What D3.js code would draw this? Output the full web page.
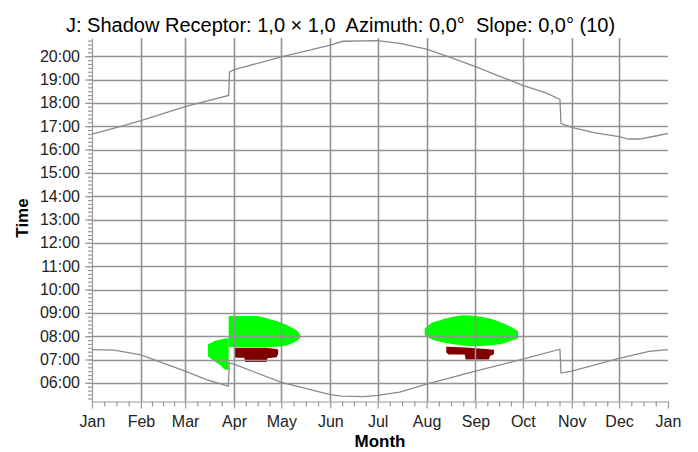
<!DOCTYPE html>
<html>
<head>
<meta charset="utf-8">
<script src="https://cdn.jsdelivr.net/npm/d3@7"></script>
<style>
  body { margin: 0; background: #fff; }
  svg { display: block; font-family: "Liberation Sans", Arial, sans-serif; }
</style>
</head>
<body>
<div id="chart"></div>
<script>
// days are counted from 1 Jan (0), times are local clock hours
var titleText = "J: Shadow Receptor: 1,0 \u00d7 1,0  Azimuth: 0,0\u00b0  Slope: 0,0\u00b0 (10)";
var monthLabels = ["Jan", "Feb", "Mar", "Apr", "May", "Jun", "Jul", "Aug", "Sep", "Oct", "Nov", "Dec", "Jan"];
var hourTicks = [6, 7, 8, 9, 10, 11, 12, 13, 14, 15, 16, 17, 18, 19, 20];

// sunset line (with the two clock changes)
var sunsetDays  = [0, 20, 31, 59, 86.6, 87.2, 90, 120, 151, 159, 181, 195, 212, 227, 243, 258, 273, 288, 296.5, 297.2, 304, 318, 334, 340, 347, 358, 365];
var sunsetHours = [16.66, 17.02, 17.24, 17.84, 18.32, 19.33, 19.42, 19.97, 20.47, 20.64, 20.67, 20.55, 20.3, 19.95, 19.55, 19.15, 18.75, 18.42, 18.15, 17.12, 16.95, 16.72, 16.55, 16.45, 16.45, 16.59, 16.69];

// sunrise line
var sunriseDays  = [0, 14, 31, 59, 73, 86.4, 87.0, 90, 120, 151, 158, 172, 181, 195, 212, 243, 273, 296.5, 297.2, 304, 334, 353, 365];
var sunriseHours = [7.42, 7.40, 7.20, 6.50, 6.13, 5.86, 6.86, 6.80, 6.02, 5.49, 5.43, 5.41, 5.46, 5.60, 5.94, 6.50, 7.02, 7.44, 6.42, 6.50, 7.05, 7.35, 7.42];

// shadow periods (green), spring before clock change
var shadow1Days = [73.5, 76, 78, 81.7, 84.3, 86.6];
var shadow1From = [7.14, 7.00, 6.90, 6.73, 6.57, 6.56];
var shadow1To   = [7.64, 7.74, 7.80, 7.86, 7.90, 7.91];

// spring after clock change
var shadow2Days = [86.6, 90, 104.4, 108, 112.8, 120.2, 126.7, 130.5, 132.4];
var shadow2From = [7.54, 7.54, 7.54, 7.54, 7.54, 7.57, 7.69, 7.84, 7.97];
var shadow2To   = [8.87, 8.87, 8.87, 8.82, 8.72, 8.57, 8.36, 8.19, 8.01];

// late summer
var shadow3Days = [210.8, 214.2, 220.5, 231.9, 236.4, 242.7, 252.2, 261.7, 266.8, 270];
var shadow3From = [8.05, 7.90, 7.76, 7.63, 7.59, 7.57, 7.61, 7.71, 7.84, 7.90];
var shadow3To   = [8.33, 8.52, 8.68, 8.86, 8.90, 8.87, 8.76, 8.52, 8.35, 8.22];

// dark red periods
var dark1Days = [90.2, 91, 96.5, 97, 110.7, 111.2, 117, 118];
var dark1From = [7.15, 7.07, 7.07, 6.89, 6.89, 7.05, 7.10, 7.25];
var dark1To   = [7.50, 7.50, 7.50, 7.50, 7.50, 7.49, 7.45, 7.42];

var dark2Days = [224.5, 226, 236.2, 236.8, 251.5, 252.2, 254.7];
var dark2From = [7.30, 7.21, 7.21, 7.00, 7.00, 7.15, 7.22];
var dark2To   = [7.55, 7.55, 7.51, 7.51, 7.44, 7.43, 7.42];

var svgWidth = 698;
var svgHeight = 452;
var margin = { top: 38, right: 30, bottom: 50.5, left: 92 };
var chartWidth = svgWidth - margin.left - margin.right;
var chartHeight = svgHeight - margin.top - margin.bottom;

var year0 = Date.UTC(2021, 0, 1);
function dayDate(d) { return new Date(year0 + d * 864e5); }

var xScale = d3.scaleUtc()
  .domain([new Date(year0), new Date(Date.UTC(2022, 0, 1))])
  .range([0, chartWidth]);

var yScale = d3.scaleLinear()
  .domain([5.2, 20.78])
  .range([chartHeight, 0]);

var svg = d3.select("#chart").append("svg")
  .attr("width", svgWidth)
  .attr("height", svgHeight);

svg.append("rect").attr("width", svgWidth).attr("height", svgHeight).attr("fill", "#fff");

var chartGroup = svg.append("g")
  .attr("transform", `translate(${margin.left}, ${margin.top})`);

// shadow areas first, grid goes over them
function drawArea(days, from, to, color, curve) {
  var area = d3.area()
    .curve(curve)
    .x(i => xScale(dayDate(days[i])))
    .y0(i => yScale(from[i]))
    .y1(i => yScale(to[i]));
  chartGroup.append("path")
    .attr("d", area(d3.range(days.length)))
    .attr("fill", color);
}
drawArea(shadow1Days, shadow1From, shadow1To, "#00ff00", d3.curveMonotoneX);
drawArea(shadow2Days, shadow2From, shadow2To, "#00ff00", d3.curveMonotoneX);
drawArea(shadow3Days, shadow3From, shadow3To, "#00ff00", d3.curveMonotoneX);
drawArea(dark1Days, dark1From, dark1To, "#800000", d3.curveLinear);
drawArea(dark2Days, dark2From, dark2To, "#800000", d3.curveLinear);

var monthDates = d3.utcMonth.range(new Date(year0), new Date(Date.UTC(2022, 0, 2)));

// grid
chartGroup.append("g").selectAll("line")
  .data(hourTicks)
  .enter().append("line")
  .attr("x1", 0).attr("x2", chartWidth)
  .attr("y1", d => Math.round(yScale(d)) + 0.5)
  .attr("y2", d => Math.round(yScale(d)) + 0.5)
  .attr("stroke", "#929292")
  .attr("stroke-width", 1.6);

chartGroup.append("g").selectAll("line")
  .data(monthDates.slice(1, 12))
  .enter().append("line")
  .attr("x1", d => Math.round(xScale(d)) + 0.5)
  .attr("x2", d => Math.round(xScale(d)) + 0.5)
  .attr("y1", 0).attr("y2", chartHeight)
  .attr("stroke", "#929292")
  .attr("stroke-width", 1.6);

// sunrise / sunset
var line = d3.line();
function drawCurve(days, hours) {
  chartGroup.append("path")
    .attr("d", line(days.map((d, i) => [xScale(dayDate(d)), yScale(hours[i])])))
    .attr("fill", "none")
    .attr("stroke", "#8a8a8a")
    .attr("stroke-width", 1.3);
}
drawCurve(sunsetDays, sunsetHours);
drawCurve(sunriseDays, sunriseHours);

// minor ticks: quarters of each month, every 10 minutes
var quarterDates = [];
monthDates.slice(0, 12).forEach(function (m, i) {
  var next = monthDates[i + 1];
  for (var k = 1; k < 4; k++) quarterDates.push(new Date(+m + (next - m) * k / 4));
});
var minuteTicks = d3.range(32, 125).map(k => k / 6);

var xMinor = chartGroup.append("g")
  .attr("transform", `translate(0, ${chartHeight})`)
  .call(d3.axisBottom(xScale).tickValues(quarterDates).tickFormat("").tickSize(5));
var yMinor = chartGroup.append("g")
  .call(d3.axisLeft(yScale).tickValues(minuteTicks).tickFormat("").tickSize(4));

var xAxis = chartGroup.append("g")
  .attr("transform", `translate(0, ${chartHeight})`)
  .call(d3.axisBottom(xScale).tickValues(monthDates).tickFormat((d, i) => monthLabels[i])
    .tickSize(7).tickSizeOuter(0).tickPadding(7));
var yAxis = chartGroup.append("g")
  .call(d3.axisLeft(yScale).tickValues(hourTicks).tickFormat(h => d3.format("02")(h) + ":00")
    .tickSize(7).tickSizeOuter(0).tickPadding(5));

[xMinor, yMinor].forEach(g => g.select(".domain").remove());
chartGroup.selectAll(".domain, .tick line").attr("stroke", "#9a9a9a").attr("stroke-width", 1.2);
chartGroup.selectAll(".tick text")
  .attr("font-family", "Liberation Sans, Arial, sans-serif")
  .attr("font-size", 16)
  .attr("fill", "#222");

// titles
svg.append("text")
  .attr("x", 66).attr("y", 32)
  .attr("font-size", 20)
  .attr("fill", "#000")
  .style("white-space", "pre")
  .text(titleText);

svg.append("text")
  .attr("x", margin.left + chartWidth / 2).attr("y", 446.5)
  .attr("text-anchor", "middle")
  .attr("font-size", 17).attr("font-weight", "bold")
  .text("Month");

svg.append("text")
  .attr("transform", "translate(28, 218) rotate(-90)")
  .attr("text-anchor", "middle")
  .attr("font-size", 17).attr("font-weight", "bold")
  .text("Time");
</script>
</body>
</html>
